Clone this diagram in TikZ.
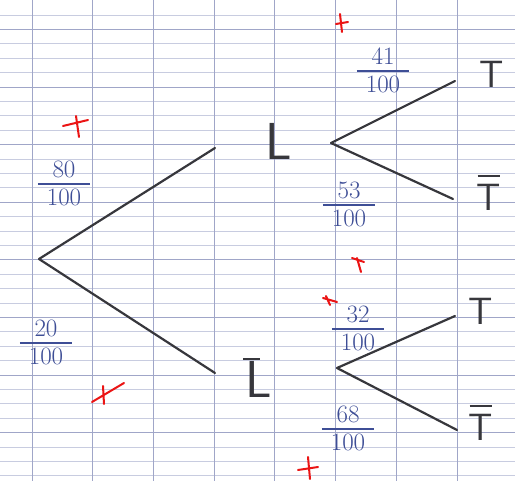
\documentclass[tikz,border=0pt]{standalone}
\usepackage{tikz}

\definecolor{gridline}{RGB}{200,204,224}
\definecolor{gridmajor}{RGB}{160,166,200}
\definecolor{ink}{RGB}{62,78,150}
\definecolor{pencil}{RGB}{55,55,60}
\definecolor{marker}{RGB}{235,20,20}

\newcommand{\ratio}[2]{\begin{tabular}{@{\hspace{9pt}}c@{\hspace{9pt}}}#1\\[-3pt]\hline\noalign{\vskip1pt}#2\end{tabular}}
\newcommand{\notev}[2][-0.18em]{\begin{tabular}{@{}c@{}}\rule{0.6em}{2pt}\\[#1]#2\end{tabular}}

\tikzset{
  branch/.style={line width=2.2pt, pencil, line cap=round},
  event/.style={font=\sffamily\fontsize{38}{40}\selectfont, text=pencil, inner sep=0pt},
  bigevent/.style={event, font=\sffamily\fontsize{52}{54}\selectfont},
  prob/.style={font=\fontsize{25}{28}\selectfont, text=ink, inner sep=0pt,
    /utils/exec={\arrayrulewidth=2.4pt}},
  tick/.style={line width=2pt, marker, line cap=round}
}

\begin{document}
\begin{tikzpicture}[x=1pt, y=-1pt]
    \useasboundingbox (0,0) rectangle (515,481);
    \fill[white] (0,0) rectangle (515,481);
    % squared paper
    \foreach \k in {0,...,32}
      \draw[gridline, line width=0.6pt] (0,15+14.4*\k) -- (515,15+14.4*\k);
    \foreach \k in {1,5,...,29}
      \draw[gridmajor, line width=0.9pt] (0,15+14.4*\k) -- (515,15+14.4*\k);
    \foreach \k in {0,...,7}
      \draw[gridmajor, line width=0.8pt] (32+60.7*\k,0) -- (32+60.7*\k,481);

    % first level
    \coordinate (root) at (39,259);
    \coordinate (upL) at (215,148);
    \coordinate (lowL) at (215,373);
    \node[bigevent] (L) at (279,141) {L};
    \node[bigevent] (nL) at (259,368)
      {\begin{tabular}{@{}l@{}}\hspace{-0.05em}\rule{0.32em}{2pt}\\[-0.32em]L\end{tabular}};

    % second level
    \coordinate (fromL) at (331,143);
    \coordinate (fromnL) at (337,368);
    \node[event] (T1) at (492,74) {T};
    \node[event] (nT1) at (489,186) {\notev{T}};
    \node[event] (T2) at (481,311) {T};
    \node[event] (nT2) at (481,416) {\notev{T}};
    \coordinate (endT1) at (455,81);
    \coordinate (endnT1) at (453,199);
    \coordinate (endT2) at (455,316);
    \coordinate (endnT2) at (457,430);

    \draw[branch]
      (root) -- (upL)
      (root) -- (lowL)
      (fromL) -- (endT1)
      (fromL) -- (endnT1)
      (fromnL) -- (endT2)
      (fromnL) -- (endnT2);

    % probabilities
    \node[prob] (p80) at (64,186) {\ratio{80}{100}};
    \node[prob] (p20) at (46,345) {\ratio{20}{100}};
    \node[prob] (p41) at (383,73) {\ratio{41}{100}};
    \node[prob] (p53) at (349,207) {\ratio{53}{100}};
    \node[prob] (p32) at (358,331) {\ratio{32}{100}};
    \node[prob] (p68) at (348,431) {\ratio{68}{100}};

    % red marks
    \draw[tick] (63,126) -- (88,120) (76,116) -- (79,137);
    \draw[tick] (92,402) -- (124,383) (103,386) -- (104,404);
    \draw[tick] (340,14) -- (342,32) (336,24) -- (348,22);
    \draw[tick] (352,258) -- (364,262) (357,258) -- (361,272);
    \draw[tick] (323,298) -- (337,302) (326,296) -- (330,305);
    \draw[tick] (298,470) -- (318,467) (308,457) -- (310,479);
\end{tikzpicture}
\end{document}
